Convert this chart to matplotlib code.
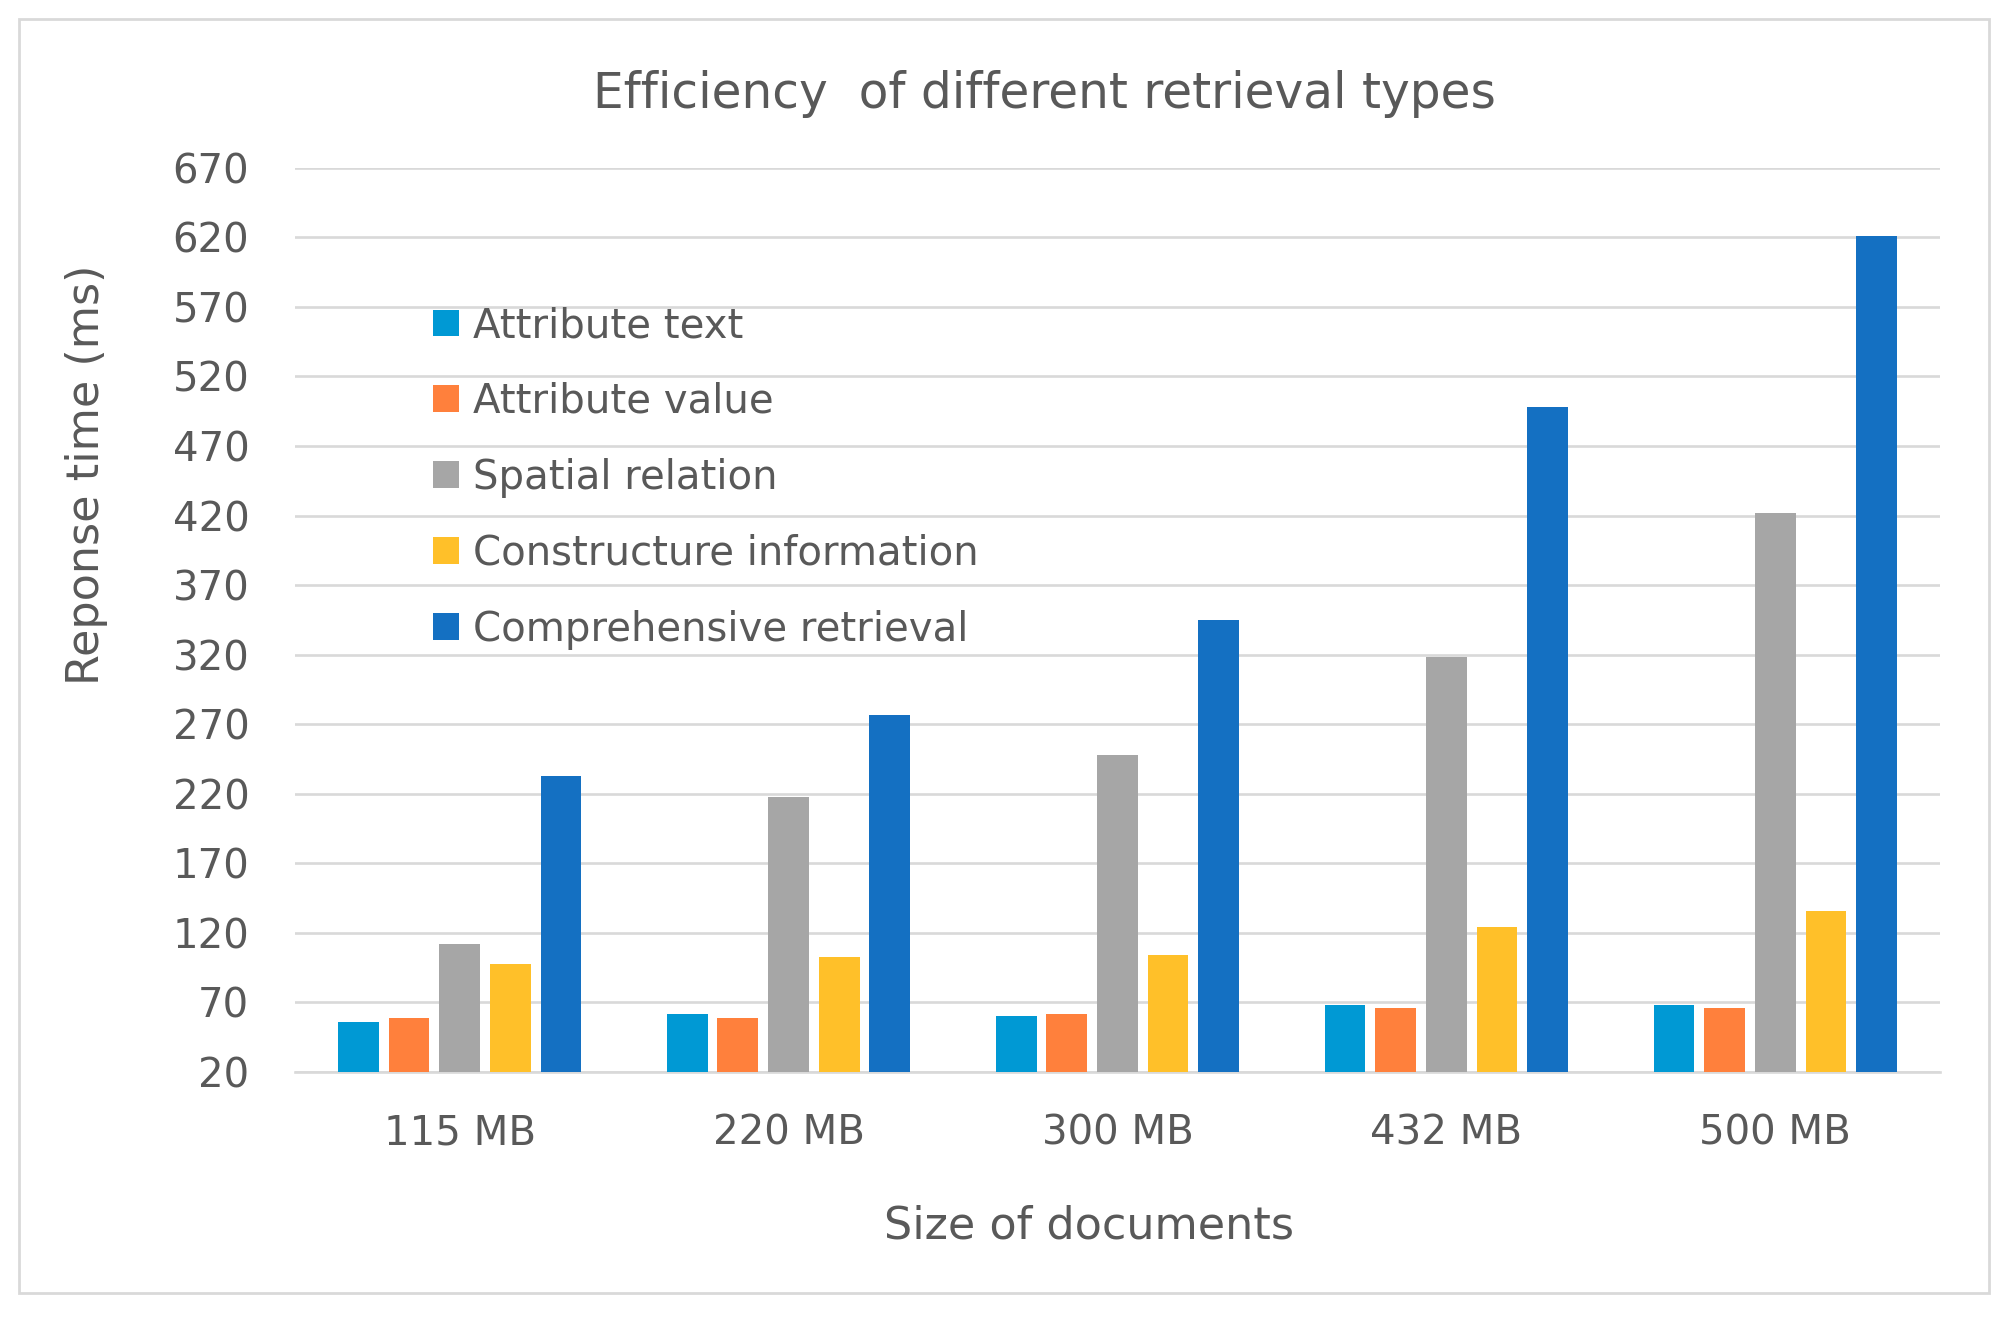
import matplotlib.pyplot as plt
import numpy as np
from matplotlib.patches import Rectangle

# Data
sizes = ['115 MB', '220 MB', '300 MB', '432 MB', '500 MB']
series_names = ['Attribute text', 'Attribute value', 'Spatial relation',
                'Constructure information', 'Comprehensive retrieval']
attribute_text = [56, 62, 60, 68, 68]
attribute_value = [59, 59, 62, 66, 66]
spatial_relation = [112, 218, 248, 318, 422]
constructure_info = [98, 103, 104, 124, 136]
comprehensive = [233, 277, 345, 498, 621]
y_ticks = list(range(20, 671, 50))

colors = ['#0099D4', '#FF803C', '#A6A6A6', '#FFC029', '#1470C2']
text_color = '#595959'
grid_color = '#D9D9D9'

plt.rcParams['font.family'] = 'DejaVu Sans'

fig = plt.figure(figsize=(20.08, 13.17), dpi=100)
ax = fig.add_axes([0.147, 0.186, 0.819, 0.6866])

x = np.arange(len(sizes))
step = 0.154
width = 0.124
all_series = [attribute_text, attribute_value, spatial_relation, constructure_info, comprehensive]
for i, (vals, name, col) in enumerate(zip(all_series, series_names, colors)):
    ax.bar(x + (i - 2) * step, vals, width=width, color=col, label=name, zorder=3)

ax.set_ylim(20, 670)
ax.set_xlim(-0.5, len(sizes) - 0.5)
ax.set_yticks(y_ticks)
ax.set_xticks(x)
ax.set_xticklabels(sizes)
ax.tick_params(axis='both', length=0, labelsize=29, colors=text_color)
ax.tick_params(axis='y', pad=33)
ax.tick_params(axis='x', pad=30)
ax.grid(axis='y', color=grid_color, linewidth=1.9, zorder=0)
for side in ['top', 'right', 'left']:
    ax.spines[side].set_visible(False)
ax.spines['bottom'].set_color(grid_color)
ax.spines['bottom'].set_linewidth(1.9)

ax.set_xlabel('Size of documents', fontsize=32, color=text_color)
ax.xaxis.set_label_coords(0.483, -0.147)
ax.set_ylabel('Reponse time (ms)', fontsize=32, color=text_color)
ax.yaxis.set_label_coords(-0.114, 0.66)

fig.text(0.52, 0.929, 'Efficiency  of different retrieval types',
         fontsize=35, color=text_color, ha='center', va='center')

ax.legend(loc='upper left', bbox_to_anchor=(0.084, 0.847), frameon=False,
          fontsize=29, labelcolor=text_color, handlelength=0.65, handleheight=0.65,
          handletextpad=0.33, labelspacing=0.89, borderpad=0, borderaxespad=0)

# light border around the whole chart
fig.patches.append(Rectangle((19 / 2008, 24 / 1317), 1970 / 2008, 1274 / 1317,
                             transform=fig.transFigure, fill=False,
                             edgecolor=grid_color, linewidth=2))

plt.savefig('out.png', dpi=100)
